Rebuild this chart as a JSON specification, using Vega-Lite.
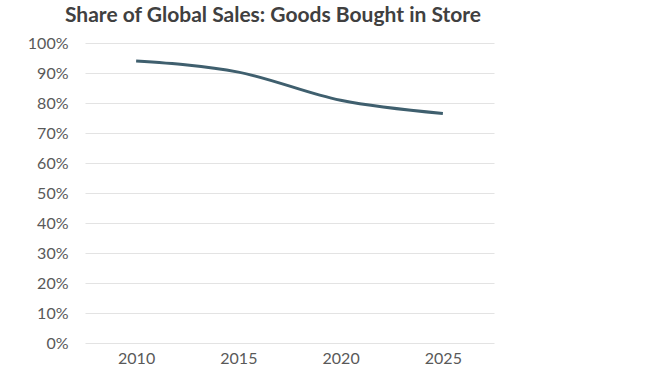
{
  "$schema": "https://vega.github.io/schema/vega-lite/v6.json",
  "autosize": "none",
  "width": 409,
  "height": 300,
  "padding": {"left": 85, "top": 43, "right": 156, "bottom": 30},
  "background": "white",
  "title": {
    "text": "Share of Global Sales: Goods Bought in Store",
    "anchor": "start",
    "frame": "group",
    "dx": -20,
    "offset": 9,
    "font": "Lato",
    "fontSize": 21,
    "fontWeight": "bold",
    "color": "#404040"
  },
  "data": {
    "values": [
      {"year": "2010", "share": 0.94},
      {"year": "2015", "share": 0.903},
      {"year": "2020", "share": 0.809},
      {"year": "2025", "share": 0.765}
    ]
  },
  "mark": {"type": "line", "color": "#3f5f6e", "strokeWidth": 3, "interpolate": "monotone"},
  "encoding": {
    "x": {
      "field": "year",
      "type": "ordinal",
      "scale": {"type": "point", "padding": 0.5},
      "axis": {
        "title": null,
        "labelAngle": 0,
        "domain": false,
        "ticks": false,
        "grid": false,
        "labelPadding": 7,
        "labelFont": "Lato",
        "labelFontSize": 16,
        "labelColor": "#595959"
      }
    },
    "y": {
      "field": "share",
      "type": "quantitative",
      "scale": {"domain": [0, 1], "nice": false},
      "axis": {
        "title": null,
        "format": ".0%",
        "values": [0, 0.1, 0.2, 0.3, 0.4, 0.5, 0.6, 0.7, 0.8, 0.9, 1],
        "domain": false,
        "ticks": false,
        "labelPadding": 17,
        "labelFont": "Lato",
        "labelFontSize": 16,
        "labelColor": "#595959",
        "gridColor": "#e3e3e3",
        "gridWidth": 1
      }
    }
  },
  "config": {"view": {"stroke": null}}
}
